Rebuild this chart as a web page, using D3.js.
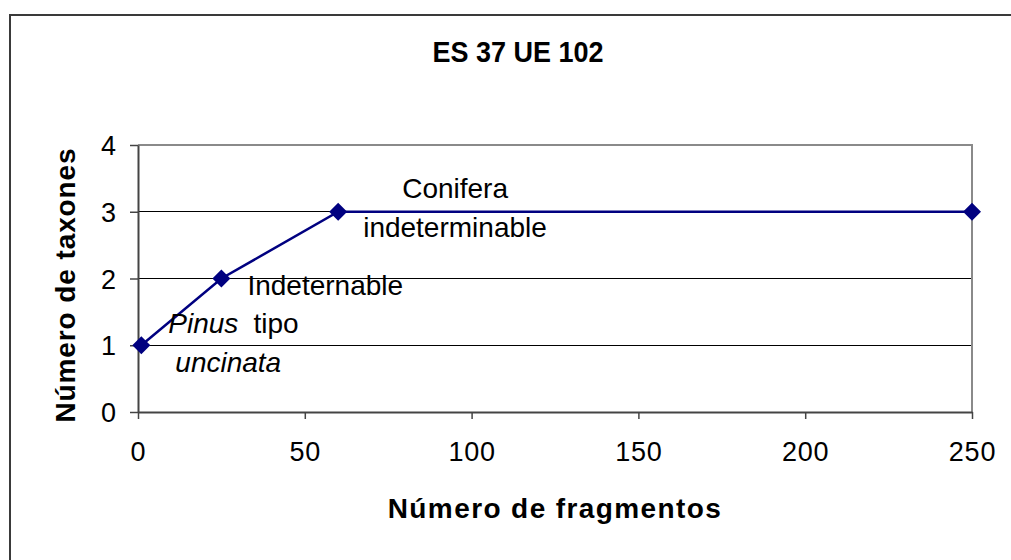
<!DOCTYPE html>
<html>
<head>
<meta charset="utf-8">
<script src="https://cdn.jsdelivr.net/npm/d3@7"></script>
<style>
  html, body { margin: 0; padding: 0; background: #fff; }
  svg { display: block; font-family: "Liberation Sans", Arial, sans-serif; }
</style>
</head>
<body>
<svg id="chart" width="1011" height="560"></svg>
<script>
// Accumulation curve: number of taxa vs number of charcoal fragments
const fragments = [1, 25, 60, 250];
const taxa = [1, 2, 3, 3];
const xTicks = [0, 50, 100, 150, 200, 250];
const yTicks = [0, 1, 2, 3, 4];
const title = "ES 37 UE 102";
const xTitle = "Número de fragmentos";
const yTitle = "Número de taxones";

// Point annotations: index of the point they belong to, and their text runs
const notes = [
  { point: 0, lines: [[{ t: "Pinus", it: true }, { t: "tipo", it: false, gap: 15 }], [{ t: "uncinata", it: true }]] },
  { point: 1, lines: [[{ t: "Indeternable", it: false }]] },
  { point: 2, lines: [[{ t: "Conifera", it: false }], [{ t: "indeterminable", it: false }]] }
];

const svg = d3.select("#chart");
const plot = { left: 138, right: 972, top: 145, bottom: 412 };

const x = d3.scaleLinear().domain([0, 250]).range([plot.left, plot.right]);
const y = d3.scaleLinear().domain([0, 4]).range([plot.bottom, plot.top]);

// Outer chart frame (runs past the right and bottom edges)
svg.append("rect")
  .attr("x", 10).attr("y", 15).attr("width", 1100).attr("height", 700)
  .attr("fill", "none").attr("stroke", "#3a3a3a").attr("stroke-width", 2);

// Title
svg.append("text")
  .attr("x", 518).attr("y", 62)
  .attr("text-anchor", "middle")
  .attr("font-size", 29).attr("font-weight", "bold")
  .attr("textLength", 171).attr("lengthAdjust", "spacingAndGlyphs")
  .text(title);

// Horizontal gridlines
svg.append("g").selectAll("line")
  .data(yTicks.filter(v => v > 0 && v < 4))
  .join("line")
  .attr("x1", plot.left).attr("x2", plot.right)
  .attr("y1", d => y(d)).attr("y2", d => y(d))
  .attr("stroke", "#000").attr("stroke-width", 1)
  .attr("shape-rendering", "crispEdges");

// Plot area border (top and right)
svg.append("path")
  .attr("d", `M${plot.left},${plot.top}H${plot.right}V${plot.bottom}`)
  .attr("fill", "none").attr("stroke", "#8a8a8a").attr("stroke-width", 2);

// Axes
const xAxis = svg.append("g")
  .attr("transform", `translate(0,${plot.bottom})`)
  .call(d3.axisBottom(x).tickValues(xTicks).tickFormat(d3.format("d"))
    .tickSizeInner(7).tickSizeOuter(0).tickPadding(23));
const yAxis = svg.append("g")
  .attr("transform", `translate(${plot.left},0)`)
  .call(d3.axisLeft(y).tickValues(yTicks).tickFormat(d3.format("d"))
    .tickSizeInner(8).tickSizeOuter(0).tickPadding(14));

[xAxis, yAxis].forEach(g => {
  g.select(".domain").attr("stroke", "#444").attr("stroke-width", 2);
  g.selectAll(".tick line").attr("stroke", "#444").attr("stroke-width", 1.5);
  g.selectAll(".tick text")
    .attr("fill", "#000")
    .attr("font-family", "Liberation Sans, Arial, sans-serif")
    .attr("font-size", 27);
});
xAxis.selectAll(".tick text").attr("dy", "0.71em").attr("letter-spacing", 0.8);
yAxis.selectAll(".tick text").attr("dy", "0.36em");

// Axis titles
svg.append("text")
  .attr("x", (plot.left + plot.right) / 2).attr("y", 518)
  .attr("text-anchor", "middle")
  .attr("font-size", 28).attr("font-weight", "bold")
  .attr("letter-spacing", 1.4)
  .text(xTitle);

svg.append("text")
  .attr("transform", "translate(75,285) rotate(-90)")
  .attr("text-anchor", "middle")
  .attr("font-size", 28).attr("font-weight", "bold")
  .attr("letter-spacing", 0.9)
  .text(yTitle);

// Series line and diamond markers
const pts = fragments.map((f, i) => [f, taxa[i]]);
svg.append("path")
  .datum(pts)
  .attr("d", d3.line().x(d => x(d[0])).y(d => y(d[1])))
  .attr("fill", "none").attr("stroke", "#000080").attr("stroke-width", 2.5);

svg.append("g").selectAll("path")
  .data(pts)
  .join("path")
  .attr("transform", d => `translate(${x(d[0])},${y(d[1])})`)
  .attr("d", "M0,-9L9,0L0,9L-9,0Z")
  .attr("fill", "#000080");

// Annotation placement relative to each point (offsets in px)
const offsets = [
  [[27, -12], [34, 27]],
  [[26, 16.5]],
  [[64, -14], [25, 25]]
];

notes.forEach((n, ni) => {
  const px = x(fragments[n.point]);
  const py = y(taxa[n.point]);
  n.lines.forEach((runs, li) => {
    const [dx, dy] = offsets[ni][li];
    const t = svg.append("text")
      .attr("x", px + dx).attr("y", py + dy)
      .attr("font-size", 28);
    runs.forEach(r => {
      t.append("tspan")
        .attr("dx", r.gap || 0)
        .attr("font-style", r.it ? "italic" : "normal")
        .text(r.t);
    });
  });
});
</script>
</body>
</html>
